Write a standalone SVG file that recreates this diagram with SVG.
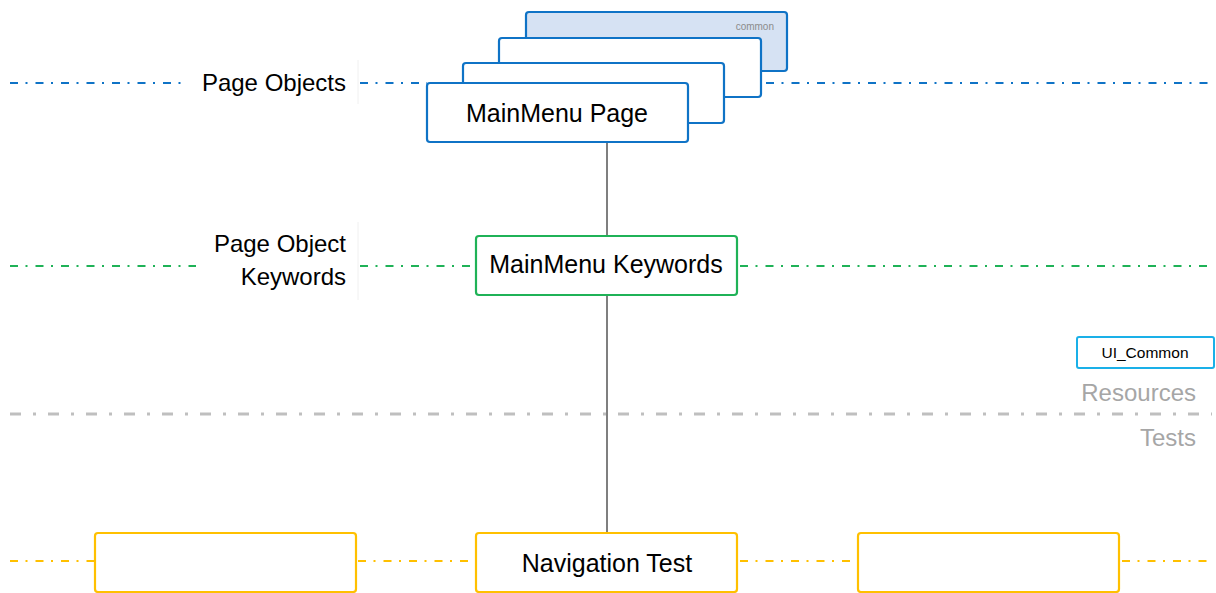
<svg xmlns="http://www.w3.org/2000/svg" width="1216" height="593" viewBox="0 0 1216 593">
  <style>
    text { font-family: "Liberation Sans", Arial, sans-serif; fill: #000; }
    .lane { fill: none; stroke-width: 2; stroke-dasharray: 8 7.5 2 8; }
    .blue { stroke: #0f73c6; }
    .green { stroke: #1fb257; }
    .yellow { stroke: #ffc000; }
    .grey { stroke: #bfbfbf; stroke-width: 3; stroke-dasharray: 11 12 3 12; fill: none; }
    .page { fill: #fff; stroke: #0f73c6; stroke-width: 2.2; }
    .kw { fill: #fff; stroke: #1fb257; stroke-width: 2.2; }
    .test { fill: #fff; stroke: #ffc000; stroke-width: 2.2; }
    .sep { stroke: #f0f0f0; stroke-width: 1; }
    .label { font-size: 24px; text-anchor: end; }
    .node { font-size: 25px; text-anchor: middle; }
    .zone { font-size: 24px; text-anchor: end; fill: #a6a6a6; }
  </style>

  <!-- swimlane guide lines -->
  <g id="lanes">
    <line class="lane blue" x1="10" y1="83" x2="184" y2="83"/>
    <line class="lane blue" x1="360" y1="83" x2="427" y2="83"/>
    <line class="lane blue" x1="766" y1="83" x2="1210" y2="83"/>
    <line class="lane green" x1="10" y1="266" x2="196" y2="266"/>
    <line class="lane green" x1="360" y1="266" x2="476" y2="266"/>
    <line class="lane green" x1="740" y1="266" x2="1210" y2="266"/>
    <line class="grey" x1="10" y1="414" x2="1212" y2="414"/>
    <line class="lane yellow" x1="10" y1="561" x2="95" y2="561"/>
    <line class="lane yellow" x1="358" y1="561" x2="476" y2="561"/>
    <line class="lane yellow" x1="740" y1="561" x2="858" y2="561"/>
    <line class="lane yellow" x1="1122" y1="561" x2="1210" y2="561"/>
    <line class="sep" x1="358" y1="60" x2="358" y2="104"/>
    <line class="sep" x1="358" y1="222" x2="358" y2="300"/>
  </g>

  <!-- lane titles -->
  <g id="lane-titles">
    <text class="label" x="346" y="91">Page Objects</text>
    <text class="label" x="346" y="252">Page Object</text>
    <text class="label" x="346" y="285">Keywords</text>
    <text class="zone" x="1196" y="401">Resources</text>
    <text class="zone" x="1196" y="446">Tests</text>
  </g>

  <!-- connectors -->
  <g id="connectors" stroke="#7f7f7f" stroke-width="2">
    <line x1="607" y1="142" x2="607" y2="236"/>
    <line x1="607" y1="295" x2="607" y2="533"/>
  </g>

  <!-- stacked page objects -->
  <g id="page-common">
    <rect x="526" y="12" width="261" height="59" rx="3" fill="#d6e2f3" stroke="#0f73c6" stroke-width="2.2"/>
    <text x="774" y="30" font-size="10" text-anchor="end" style="fill:#8c8c8c">common</text>
  </g>
  <g id="page-2">
    <rect class="page" x="499" y="38" width="262" height="59" rx="3"/>
  </g>
  <g id="page-3">
    <rect class="page" x="463" y="63" width="261" height="60" rx="3"/>
  </g>
  <g id="mainmenu-page">
    <rect class="page" x="427" y="83" width="261" height="59" rx="3"/>
    <text class="node" x="557" y="122">MainMenu Page</text>
  </g>

  <g id="mainmenu-keywords">
    <rect class="kw" x="476" y="236" width="261" height="59" rx="3"/>
    <text class="node" x="606" y="273" font-size="22">MainMenu Keywords</text>
  </g>

  <g id="ui-common">
    <rect x="1077" y="337" width="137" height="31" rx="2" fill="#fff" stroke="#1ab0e8" stroke-width="2"/>
    <text x="1145" y="358" font-size="15.5" text-anchor="middle">UI_Common</text>
  </g>

  <g id="test-left">
    <rect class="test" x="95" y="533" width="261" height="59" rx="3"/>
  </g>
  <g id="navigation-test">
    <rect class="test" x="476" y="533" width="261" height="59" rx="3"/>
    <text class="node" x="607" y="572">Navigation Test</text>
  </g>
  <g id="test-right">
    <rect class="test" x="858" y="533" width="261" height="59" rx="3"/>
  </g>
</svg>
